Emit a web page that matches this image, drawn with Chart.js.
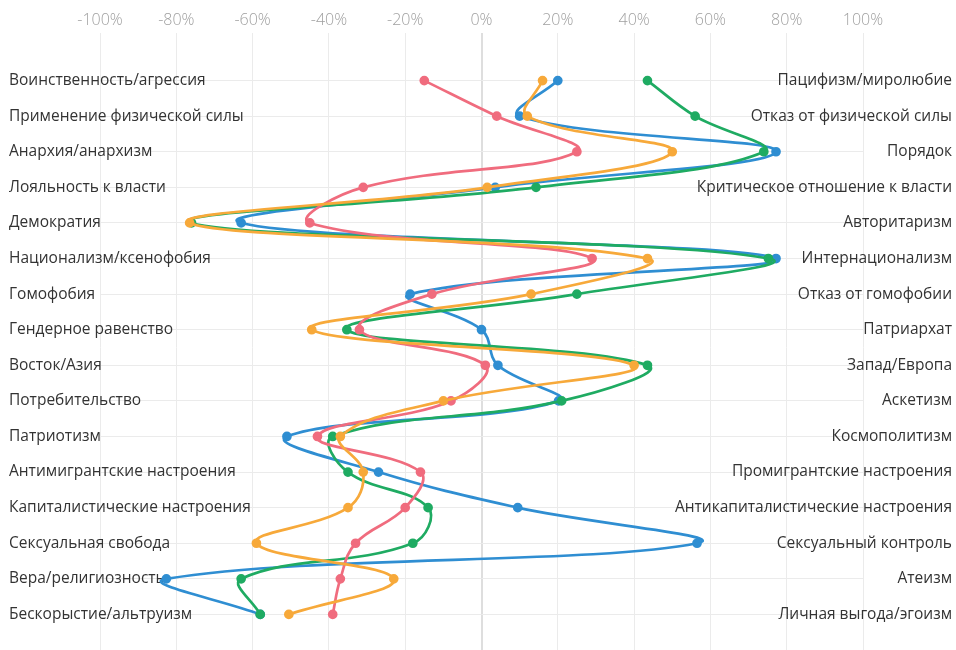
<!DOCTYPE html>
<html>
<head>
<meta charset="utf-8">
<script src="https://cdn.jsdelivr.net/npm/chart.js@4.4.0/dist/chart.umd.min.js"></script>
<style>
  html, body { margin: 0; padding: 0; background: #fff; }
  canvas { display: block; }
</style>
</head>
<body>
<canvas id="chart" width="956" height="650"></canvas>
<script>
// левые и правые полюса шкал
const leftLabels = [
  'Воинственность/агрессия', 'Применение физической силы', 'Анархия/анархизм',
  'Лояльность к власти', 'Демократия', 'Национализм/ксенофобия', 'Гомофобия',
  'Гендерное равенство', 'Восток/Азия', 'Потребительство', 'Патриотизм',
  'Антимигрантские настроения', 'Капиталистические настроения', 'Сексуальная свобода',
  'Вера/религиозность', 'Бескорыстие/альтруизм'
];
const rightLabels = [
  'Пацифизм/миролюбие', 'Отказ от физической силы', 'Порядок',
  'Критическое отношение к власти', 'Авторитаризм', 'Интернационализм',
  'Отказ от гомофобии', 'Патриархат', 'Запад/Европа', 'Аскетизм', 'Космополитизм',
  'Промигрантские настроения', 'Антикапиталистические настроения',
  'Сексуальный контроль', 'Атеизм', 'Личная выгода/эгоизм'
];
const xTicks = [-100, -80, -60, -40, -20, 0, 20, 40, 60, 80, 100];

// значения (%)
const orangeValues = [16, 12, 50, 1.5, -76.5, 43.5, 13, -44.5, 40, -10, -37, -31, -35, -59, -23, -50.5];
const redValues = [-15, 4, 25, -31, -45, 29, -13, -32, 1, -8, -43, -16, -20, -33, -37, -39];
const greenValues = [43.5, 56, 74, 14.3, -76, 75.2, 25, -35.3, 43.5, 21, -39, -35, -14, -18, -63, -58];
const blueValues = [20, 10, 77.2, 3.6, -63, 77.2, -18.7, 0, 4.3, 20.2, -51, -27, 9.5, 56.5, -82.6, -58];

const series = [
  { values: orangeValues, color: '#f7a93a' },
  { values: redValues, color: '#f06c7e' },
  { values: greenValues, color: '#1fab62' },
  { values: blueValues, color: '#2f8ed2' }
];

const datasets = series.map(s => ({
  data: s.values.map((v, i) => ({ x: v, y: i })),
  borderColor: s.color,
  backgroundColor: s.color,
  pointBackgroundColor: s.color,
  pointBorderColor: s.color,
  borderWidth: 2.7,
  pointRadius: 3.5,
  tension: 0.4,
  fill: false
}));

// новые объекты каждый раз, иначе оси делят tick.label
const rowTicks = () => leftLabels.map((_, i) => ({ value: i }));

new Chart(document.getElementById('chart'), {
  type: 'line',
  data: { datasets: datasets },
  options: {
    indexAxis: 'y',
    responsive: false,
    animation: false,
    layout: { autoPadding: false, padding: { left: 9, right: 4, top: 0, bottom: 0 } },
    plugins: { legend: { display: false }, tooltip: { enabled: false } },
    scales: {
      x: {
        type: 'linear',
        position: 'top',
        min: -100,
        max: 100,
        afterBuildTicks: (scale) => { scale.ticks = xTicks.map(v => ({ value: v })); },
        afterFit: (scale) => { scale.height = 45; },
        border: { display: false },
        grid: {
          color: (ctx) => ctx.tick && ctx.tick.value === 0 ? '#dedede' : '#ebebeb',
          lineWidth: (ctx) => ctx.tick && ctx.tick.value === 0 ? 2 : 1,
          tickLength: 12
        },
        ticks: {
          color: '#a0a0a0',
          padding: 3,
          font: { family: 'Open Sans', size: 16, weight: 300 },
          callback: (v) => v + '%'
        }
      },
      y: {
        type: 'linear',
        position: 'left',
        reverse: true,
        min: -1,
        max: 16,
        afterBuildTicks: (scale) => { scale.ticks = rowTicks(); },
        afterFit: (scale) => { scale.width = 91; scale.paddingTop = 0; scale.paddingBottom = 0; },
        border: { display: false },
        grid: { color: '#ebebeb', drawTicks: false },
        ticks: {
          mirror: true,
          padding: -91,
          crossAlign: 'near',
          color: '#333',
          font: { family: 'Open Sans', size: 15.5 },
          callback: (v) => leftLabels[v]
        }
      },
      y2: {
        type: 'linear',
        position: 'right',
        reverse: true,
        min: -1,
        max: 16,
        afterBuildTicks: (scale) => { scale.ticks = rowTicks(); },
        afterFit: (scale) => { scale.width = 89; scale.paddingTop = 0; scale.paddingBottom = 0; },
        border: { display: false },
        grid: { display: false },
        ticks: {
          mirror: true,
          padding: 89,
          crossAlign: 'near',
          color: '#333',
          font: { family: 'Open Sans', size: 15.5 },
          callback: (v) => rightLabels[v]
        }
      }
    }
  }
});
</script>
</body>
</html>
